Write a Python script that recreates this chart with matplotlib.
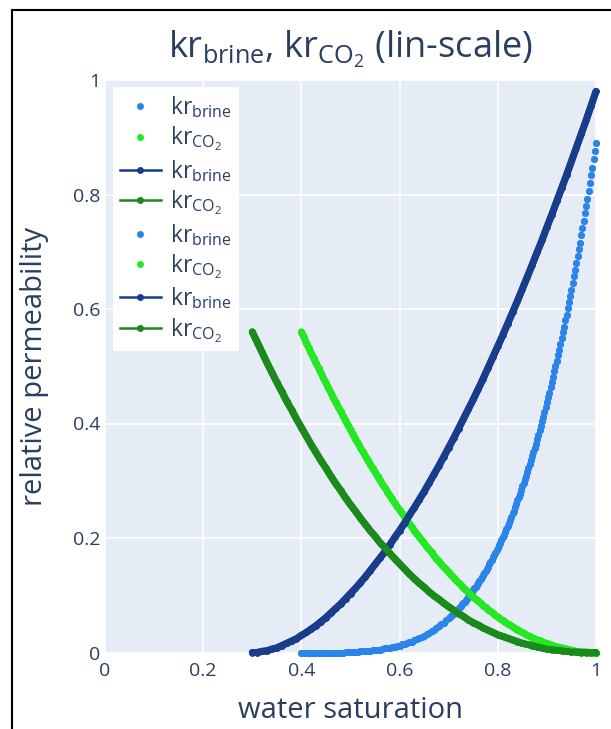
import numpy as np
import matplotlib
matplotlib.use('Agg')
import matplotlib.pyplot as plt
from matplotlib.lines import Line2D

plt.rcParams['font.family'] = ['Open Sans', 'DejaVu Sans']
plt.rcParams['mathtext.fontset'] = 'custom'
plt.rcParams['mathtext.rm'] = 'Open Sans'
plt.rcParams['mathtext.it'] = 'Open Sans:italic'
plt.rcParams['mathtext.bf'] = 'Open Sans:bold'

TEXT = '#2a3f5f'

# brine / CO2 relative permeability, marker-only traces (Swr = 0.4)
sw_brine_pts = np.concatenate([np.linspace(0.4, 0.695, 60), np.linspace(0.7, 1.0, 121)])
kr_brine_pts = [
    0.0, 0.0, 0.0, 0.0, 0.0, 0.0, 0.0, 0.0, 0.0, 0.0,
    0.0, 0.0, 0.0, 0.0, 0.0, 0.0, 0.0, 0.0, 0.001, 0.001,
    0.001, 0.001, 0.001, 0.001, 0.002, 0.002, 0.002, 0.003, 0.003, 0.004,
    0.004, 0.005, 0.005, 0.006, 0.007, 0.007, 0.008, 0.009, 0.010, 0.011,
    0.012, 0.014, 0.015, 0.016, 0.018, 0.019, 0.021, 0.023, 0.025, 0.027,
    0.029, 0.032, 0.034, 0.037, 0.040, 0.042, 0.046, 0.049, 0.052, 0.056,
    0.060, 0.062, 0.064, 0.066, 0.068, 0.070, 0.072, 0.074, 0.077, 0.079,
    0.081, 0.084, 0.086, 0.089, 0.092, 0.094, 0.097, 0.100, 0.103, 0.106,
    0.109, 0.112, 0.115, 0.118, 0.121, 0.125, 0.128, 0.132, 0.135, 0.139,
    0.142, 0.146, 0.150, 0.154, 0.158, 0.162, 0.166, 0.170, 0.174, 0.179,
    0.183, 0.188, 0.192, 0.197, 0.202, 0.206, 0.211, 0.216, 0.221, 0.227,
    0.232, 0.237, 0.243, 0.248, 0.254, 0.260, 0.266, 0.271, 0.277, 0.284,
    0.290, 0.296, 0.303, 0.309, 0.316, 0.323, 0.329, 0.336, 0.343, 0.351,
    0.358, 0.365, 0.373, 0.380, 0.388, 0.396, 0.404, 0.412, 0.420, 0.429,
    0.437, 0.446, 0.454, 0.463, 0.472, 0.481, 0.491, 0.500, 0.509, 0.519,
    0.529, 0.539, 0.549, 0.559, 0.569, 0.580, 0.590, 0.601, 0.612, 0.623,
    0.634, 0.645, 0.657, 0.668, 0.680, 0.692, 0.704, 0.716, 0.729, 0.741,
    0.754, 0.767, 0.780, 0.793, 0.806, 0.820, 0.834, 0.847, 0.862, 0.876,
    0.890,
]
sw_co2_pts = np.linspace(0.4, 1.0, 121)
kr_co2_pts = [
    0.560, 0.551, 0.541, 0.532, 0.523, 0.514, 0.505, 0.497, 0.488, 0.479,
    0.471, 0.462, 0.454, 0.445, 0.437, 0.429, 0.421, 0.413, 0.405, 0.397,
    0.389, 0.381, 0.373, 0.366, 0.358, 0.351, 0.344, 0.336, 0.329, 0.322,
    0.315, 0.308, 0.301, 0.294, 0.288, 0.281, 0.274, 0.268, 0.261, 0.255,
    0.249, 0.243, 0.237, 0.231, 0.225, 0.219, 0.213, 0.207, 0.202, 0.196,
    0.191, 0.185, 0.180, 0.175, 0.169, 0.164, 0.159, 0.154, 0.149, 0.145,
    0.140, 0.135, 0.131, 0.126, 0.122, 0.118, 0.113, 0.109, 0.105, 0.101,
    0.097, 0.093, 0.090, 0.086, 0.082, 0.079, 0.075, 0.072, 0.069, 0.065,
    0.062, 0.059, 0.056, 0.053, 0.050, 0.048, 0.045, 0.042, 0.040, 0.037,
    0.035, 0.033, 0.030, 0.028, 0.026, 0.024, 0.022, 0.021, 0.019, 0.017,
    0.016, 0.014, 0.013, 0.011, 0.010, 0.009, 0.008, 0.007, 0.006, 0.005,
    0.004, 0.003, 0.002, 0.002, 0.001, 0.001, 0.001, 0.0, 0.0, 0.0,
    0.0,
]

# line traces (Swr = 0.3)
sw_line = np.linspace(0.3, 1.0, 71)
kr_brine_line = [
    0.0, 0.0, 0.002, 0.003, 0.006, 0.008, 0.012, 0.016, 0.020, 0.024,
    0.030, 0.035, 0.041, 0.047, 0.054, 0.061, 0.069, 0.077, 0.085, 0.094,
    0.103, 0.112, 0.122, 0.132, 0.143, 0.154, 0.165, 0.176, 0.188, 0.201,
    0.213, 0.226, 0.240, 0.253, 0.267, 0.281, 0.296, 0.311, 0.326, 0.342,
    0.358, 0.374, 0.391, 0.408, 0.425, 0.442, 0.460, 0.478, 0.497, 0.516,
    0.535, 0.554, 0.574, 0.594, 0.614, 0.635, 0.656, 0.677, 0.699, 0.720,
    0.743, 0.765, 0.788, 0.811, 0.834, 0.858, 0.882, 0.906, 0.930, 0.955,
    0.980,
]
kr_co2_line = [
    0.560, 0.542, 0.524, 0.506, 0.489, 0.472, 0.456, 0.439, 0.424, 0.408,
    0.393, 0.378, 0.363, 0.349, 0.335, 0.322, 0.308, 0.295, 0.283, 0.270,
    0.258, 0.247, 0.235, 0.224, 0.213, 0.203, 0.192, 0.183, 0.173, 0.164,
    0.155, 0.146, 0.137, 0.129, 0.121, 0.114, 0.106, 0.099, 0.093, 0.086,
    0.080, 0.074, 0.068, 0.063, 0.057, 0.052, 0.048, 0.043, 0.039, 0.035,
    0.031, 0.028, 0.025, 0.022, 0.019, 0.016, 0.014, 0.012, 0.010, 0.008,
    0.006, 0.005, 0.004, 0.003, 0.002, 0.001, 0.001, 0.0, 0.0, 0.0,
    0.0,
]

ticks = [0, 0.2, 0.4, 0.6, 0.8, 1]
tick_labels = ['0', '0.2', '0.4', '0.6', '0.8', '1']

LBL_BRINE = r'kr$_{\mathrm{brine}}$'
LBL_CO2 = r'kr$_{\mathrm{CO}_2}$'

C_BRINE_PTS = '#2a84ea'
C_CO2_PTS = '#25e825'
C_BRINE_LINE = '#173d8c'
C_CO2_LINE = '#1a8a1a'

fig = plt.figure(figsize=(6.11, 7.29), dpi=100)
ax = fig.add_axes([105 / 611, 1 - 652.5 / 729, 491 / 611, 572.5 / 729])
ax.set_facecolor('#e5ecf6')
for s in ax.spines.values():
    s.set_visible(False)
ax.set_xlim(0, 1)
ax.set_ylim(0, 1)
ax.set_xticks(ticks)
ax.set_xticklabels(tick_labels)
ax.set_yticks(ticks)
ax.set_yticklabels(tick_labels)
ax.tick_params(length=0, labelsize=14, labelcolor=TEXT)
ax.tick_params(axis='y', pad=3.5)
ax.tick_params(axis='x', pad=6.5)
ax.grid(True, color='white', lw=1.2)
ax.set_axisbelow(True)

handles = []
# the figure holds the same four traces twice
for rep in range(2):
    ax.plot(sw_brine_pts, kr_brine_pts, 'o', color=C_BRINE_PTS, ms=5, mew=0, clip_on=False)
    # dense points, drawn as a continuous band
    ax.plot(sw_co2_pts, kr_co2_pts, '-o', color=C_CO2_PTS, lw=4.9, ms=4.8, mew=0,
            solid_capstyle='round', clip_on=False)
    ax.plot(sw_line, kr_brine_line, '-o', color=C_BRINE_LINE, lw=5, ms=4.6, mew=0,
            solid_capstyle='round', clip_on=False)
    ax.plot(sw_line, kr_co2_line, '-o', color=C_CO2_LINE, lw=5, ms=4.6, mew=0,
            solid_capstyle='round', clip_on=False)
    handles += [
        Line2D([], [], ls='none', marker='o', color=C_BRINE_PTS, ms=5, mew=0, label=LBL_BRINE),
        Line2D([], [], ls='none', marker='o', color=C_CO2_PTS, ms=5, mew=0, label=LBL_CO2),
        Line2D([], [], lw=1.8, marker='o', color=C_BRINE_LINE, ms=5, mew=0, label=LBL_BRINE),
        Line2D([], [], lw=1.8, marker='o', color=C_CO2_LINE, ms=5, mew=0, label=LBL_CO2),
    ]

leg = ax.legend(handles=handles, loc='upper left', bbox_to_anchor=(0.0157, 0.987),
                fontsize=16.5, frameon=True, fancybox=False, framealpha=1,
                edgecolor='white', facecolor='white', labelcolor=TEXT,
                handlelength=1.8, handletextpad=0.42, labelspacing=0.2,
                borderpad=0.3, borderaxespad=0)
leg.get_frame().set_linewidth(0)

cx = (105 + 596) / 2 / 611
fig.text(cx, 1 - 49 / 729, r'kr$_{\mathrm{brine}}$, kr$_{\mathrm{CO}_2}$ (lin-scale)',
         ha='center', va='center', fontsize=26, color=TEXT)
fig.text(cx, 1 - 710 / 729, 'water saturation', ha='center', va='center',
         fontsize=21, color=TEXT)
fig.text(35 / 611, 1 - 366 / 729, 'relative permeability', ha='center', va='center',
         rotation=90, fontsize=21, color=TEXT)

# outer frame edges
fig.add_artist(Line2D([12 / 611, 12 / 611], [0, 1 - 10 / 729], transform=fig.transFigure,
                      color='black', lw=1.5))
fig.add_artist(Line2D([12 / 611, 1], [1 - 10 / 729, 1 - 10 / 729], transform=fig.transFigure,
                      color='black', lw=1.5))

fig.savefig('out.png', dpi=100, facecolor='white')
